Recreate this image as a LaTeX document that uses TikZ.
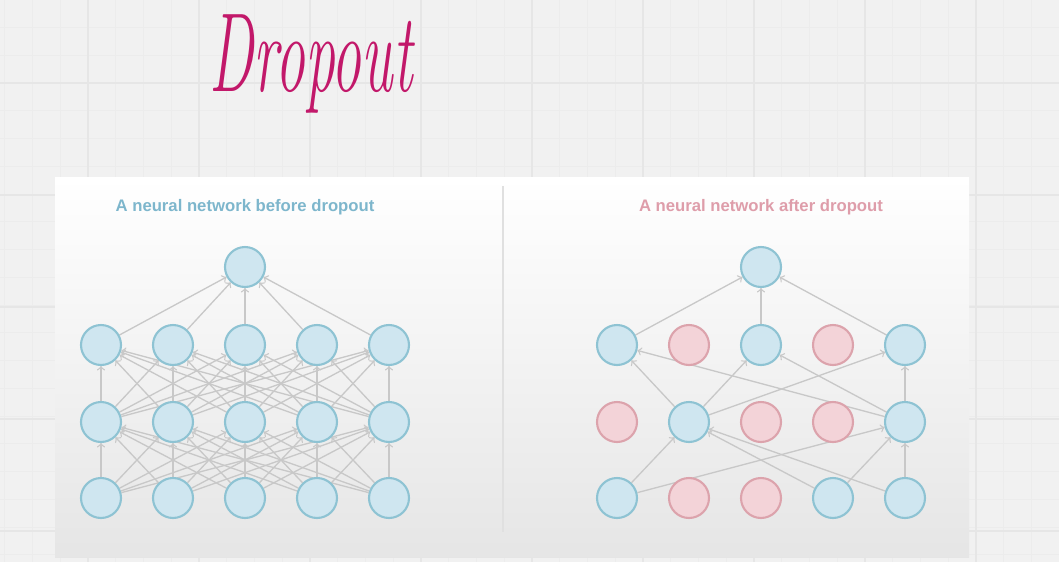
\documentclass[tikz,border=0pt]{standalone}
\usepackage{fontspec}
\setsansfont{Liberation Sans}
\usepackage{graphicx}
\pgfdeclarelayer{paper}
\pgfdeclarelayer{background}
\pgfsetlayers{paper,background,main}

\definecolor{bgray}{HTML}{F1F1F1}
\definecolor{gridline}{HTML}{E6E6E6}
\definecolor{gridfaint}{HTML}{ECECEC}
\definecolor{inkpink}{HTML}{C2186A}
\definecolor{cellfill}{HTML}{CFE6F0}
\definecolor{celledge}{HTML}{8EC3D3}
\definecolor{dropfill}{HTML}{F3D3D8}
\definecolor{dropedge}{HTML}{DCA3AC}
\definecolor{titleblue}{HTML}{7DB6CC}
\definecolor{titlered}{HTML}{DE9DAA}
\definecolor{wiregray}{HTML}{C8C8C8}

\tikzset{
  unit/.style={circle, minimum size=0.8cm, inner sep=0pt, draw=celledge, fill=cellfill, line width=1.2pt},
  dropped/.style={unit, draw=dropedge, fill=dropfill},
  wire/.style={->, draw=wiregray, line width=0.75pt},
  caption/.style={font=\sffamily\bfseries\fontsize{9.5}{11}\selectfont},
}

\begin{document}
\begin{tikzpicture}[x=0.02cm, y=-0.02cm, >=to]
	\useasboundingbox (0,0) rectangle (1059,562);
	\begin{pgfonlayer}{paper}
		% 1. 背景与方格纸
		\fill[bgray] (0,0) rectangle (1059,562);
		\begin{scope}
			\clip (0,0) rectangle (1059,562);
			\foreach \gx in {4.75,32.5,...,1059} \draw[gridfaint, line width=0.3pt] (\gx,0) -- (\gx,562);
			\foreach \gy in {-0.25,27.5,...,562} \draw[gridfaint, line width=0.3pt] (0,\gy) -- (1059,\gy);
			\foreach \gx in {88,199,...,1059} \draw[gridline, line width=0.6pt] (\gx,0) -- (\gx,562);
			\foreach \gy in {83,195,...,562} \draw[gridline, line width=0.6pt] (0,\gy) -- (1059,\gy);
		\end{scope}
		% 2. 白色面板与分隔线
		\shade[top color=white, middle color=white, bottom color=black!10] (55,177) rectangle (969,557);
		\draw[black!12, line width=1pt] (503,186) -- (503,532);
	\end{pgfonlayer}
	
	% 3. 手写标题与小标题
	\node[anchor=base, text=inkpink] (heading) at (311,91) {\scalebox{0.53}[1]{\fontsize{64}{64}\selectfont\itshape Dropout}};
	\node[caption, text=titleblue] (lefttitle) at (245,207) {A neural network before dropout};
	\node[caption, text=titlered] (righttitle) at (761,207) {A neural network after dropout};
	
	% 4. 左侧：完整网络
	\foreach \i/\cx in {1/101,2/173,3/245,4/317,5/389} {
		\node[unit] (li\i) at (\cx,498) {};
		\node[unit] (lh\i) at (\cx,422) {};
		\node[unit] (lg\i) at (\cx,345) {};
	}
	\node[unit] (lo) at (245,267) {};
	\begin{pgfonlayer}{background}
		\foreach \a in {1,...,5} {
			\foreach \b in {1,...,5} {
				\draw[wire] (li\a) -- (lh\b);
				\draw[wire] (lh\a) -- (lg\b);
			}
			\draw[wire] (lg\a) -- (lo);
		}
	\end{pgfonlayer}
	
	% 5. 右侧：dropout 之后
	\node[unit] (ri1) at (617,498) {};
	\node[dropped] (ri2) at (689,498) {};
	\node[dropped] (ri3) at (761,498) {};
	\node[unit] (ri4) at (833,498) {};
	\node[unit] (ri5) at (905,498) {};
	\node[dropped] (rh1) at (617,422) {};
	\node[unit] (rh2) at (689,422) {};
	\node[dropped] (rh3) at (761,422) {};
	\node[dropped] (rh4) at (833,422) {};
	\node[unit] (rh5) at (905,422) {};
	\node[unit] (rg1) at (617,345) {};
	\node[dropped] (rg2) at (689,345) {};
	\node[unit] (rg3) at (761,345) {};
	\node[dropped] (rg4) at (833,345) {};
	\node[unit] (rg5) at (905,345) {};
	\node[unit] (ro) at (761,267) {};
	\begin{pgfonlayer}{background}
		\foreach \a in {1,4,5} \foreach \b in {2,5} \draw[wire] (ri\a) -- (rh\b);
		\foreach \a in {2,5} \foreach \b in {1,3,5} \draw[wire] (rh\a) -- (rg\b);
		\foreach \b in {1,3,5} \draw[wire] (rg\b) -- (ro);
	\end{pgfonlayer}
\end{tikzpicture}
\end{document}
